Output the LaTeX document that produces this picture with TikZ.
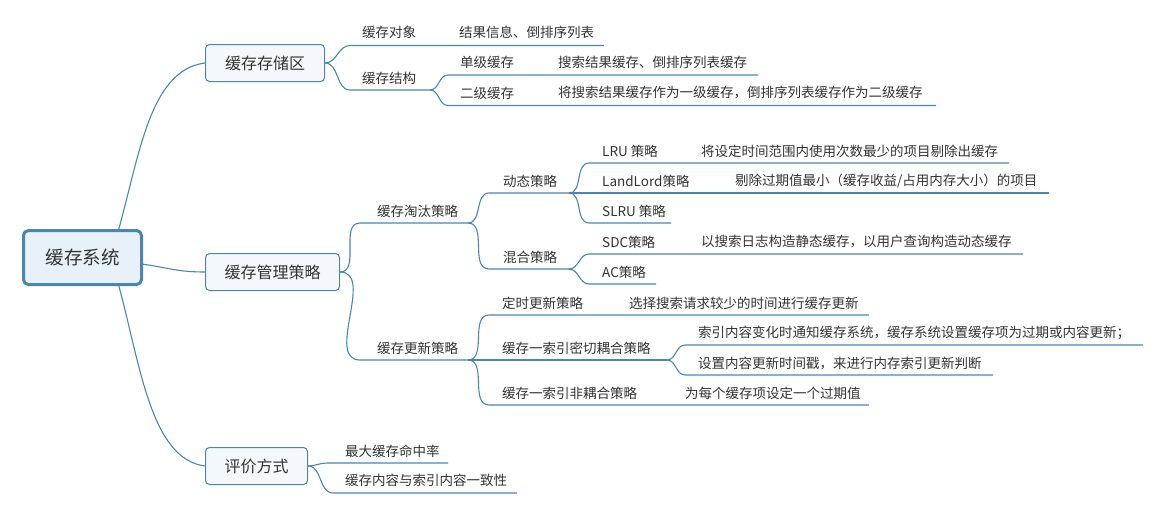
\documentclass[tikz,border=0pt]{standalone}
\usepackage{fontspec}
\setmainfont{Noto Sans CJK SC}
\usetikzlibrary{backgrounds}
\definecolor{lnc}{HTML}{4A86B4}
\definecolor{rootfill}{HTML}{E8F1FA}
\definecolor{subfill}{HTML}{F4F8FC}
\definecolor{txt}{HTML}{333333}
\tikzset{
  conn/.style={color=lnc, line width=1.1pt},
  curv/.style={out=0, in=180},
  lbl/.style={anchor=west, inner sep=0pt, text=txt, font=\fontsize{13.5}{16}\selectfont},
  rootbox/.style={draw=lnc, line width=3pt, fill=rootfill, rounded corners=5pt,
    font=\fontsize{18.5}{22}\selectfont, text=txt, inner sep=0pt,
    minimum width=118pt, minimum height=54pt},
  mainbox/.style={draw=lnc, line width=1pt, fill=subfill, rounded corners=4pt,
    minimum height=37pt, font=\fontsize{16}{19}\selectfont, text=txt, inner sep=0pt},
}
\begin{document}
\begin{tikzpicture}[x=1pt, y=-1pt]
\useasboundingbox (0,0) rectangle (1163,514);

% main boxes
\node[rootbox] (root) at (82.5,257.5) {缓存系统};
\node[mainbox, minimum width=119pt] (b1) at (265,63) {缓存存储区};
\node[mainbox, minimum width=134pt] (b2) at (272.5,272) {缓存管理策略};
\node[mainbox, minimum width=102pt] (b3) at (256.5,466) {评价方式};

% anchor points of root connectors
\coordinate (rtop) at (118,232);
\coordinate (rbot) at (118,283);
\coordinate (rmid) at (141,264);

% ---- 缓存存储区 ----
\coordinate (c1s) at (350,45.5);  \coordinate (c1e) at (604,45.5);
\node[lbl] (c1t) at (362,32) {缓存对象};
\node[lbl] (c1d) at (459,32) {结果信息、倒排序列表};
\coordinate (c2s) at (350,90);    \coordinate (c2e) at (430,90);
\node[lbl] (c2t) at (362,78) {缓存结构};
\coordinate (c21s) at (448,75);   \coordinate (c21e) at (758,75);
\node[lbl] (c21t) at (460,62) {单级缓存};
\node[lbl] (c21d) at (558,62) {搜索结果缓存、倒排序列表缓存};
\coordinate (c22s) at (448,105.5); \coordinate (c22e) at (936,105.5);
\node[lbl] (c22t) at (460,93) {二级缓存};
\node[lbl] (c22d) at (558,93) {将搜索结果缓存作为一级缓存，倒排序列表缓存作为二级缓存};

% ---- 缓存管理策略 ----
\coordinate (d1s) at (360,223);   \coordinate (d1e) at (468,223);
\node[lbl] (d1t) at (377,211) {缓存淘汰策略};
\coordinate (d2s) at (360,360);   \coordinate (d2e) at (468,360);
\node[lbl] (d2t) at (377,348) {缓存更新策略};

\coordinate (e1s) at (489,193);   \coordinate (e1e) at (569,193);
\node[lbl] (e1t) at (503,181) {动态策略};
\coordinate (e2s) at (489,269);   \coordinate (e2e) at (569,269);
\node[lbl] (e2t) at (503,257) {混合策略};

\coordinate (f1s) at (589,163);   \coordinate (f1e) at (1009,163);
\node[lbl] (f1t) at (602,151) {LRU 策略};
\node[lbl] (f1d) at (701,151) {将设定时间范围内使用次数最少的项目剔除出缓存};
\coordinate (f2s) at (589,193);   \coordinate (f2e) at (1049,193);
\node[lbl] (f2t) at (602,181) {LandLord策略};
\node[lbl] (f2d) at (735,181) {剔除过期值最小（缓存收益/占用内存大小）的项目};
\coordinate (f3s) at (589,223);   \coordinate (f3e) at (671,223);
\node[lbl] (f3t) at (602,211) {SLRU 策略};
\coordinate (f4s) at (589,254);   \coordinate (f4e) at (1023,254);
\node[lbl] (f4t) at (602,242) {SDC策略};
\node[lbl] (f4d) at (701,242) {以搜索日志构造静态缓存，以用户查询构造动态缓存};
\coordinate (f5s) at (589,284);   \coordinate (f5e) at (656,284);
\node[lbl] (f5t) at (602,272) {AC策略};

\coordinate (g1s) at (489,315);   \coordinate (g1e) at (869,315);
\node[lbl] (g1t) at (502,303) {定时更新策略};
\node[lbl] (g1d) at (629,303) {选择搜索请求较少的时间进行缓存更新};
\coordinate (g2s) at (489,360);   \coordinate (g2e) at (667,360);
\node[lbl] (g2t) at (502,348) {缓存一索引密切耦合策略};
\coordinate (g3s) at (489,405);   \coordinate (g3e) at (869,405);
\node[lbl] (g3t) at (502,393) {缓存一索引非耦合策略};
\node[lbl] (g3d) at (685,393) {为每个缓存项设定一个过期值};

\coordinate (h1s) at (685,345);   \coordinate (h1e) at (1143,345);
\node[lbl] (h1t) at (698,333) {索引内容变化时通知缓存系统，缓存系统设置缓存项为过期或内容更新；};
\coordinate (h2s) at (685,375);   \coordinate (h2e) at (993,375);
\node[lbl] (h2t) at (698,364) {设置内容更新时间戳，来进行内存索引更新判断};

% ---- 评价方式 ----
\coordinate (k1s) at (327,463);   \coordinate (k1e) at (448,463);
\node[lbl] (k1t) at (345,451) {最大缓存命中率};
\coordinate (k2s) at (333,493);   \coordinate (k2e) at (517,493);
\node[lbl] (k2t) at (345,480) {缓存内容与索引内容一致性};

\begin{scope}[on background layer]
  \fill[white] (0,0) rectangle (1163,514);
\end{scope}
\begin{scope}[on background layer]
  % root connectors
  \draw[conn] (rtop) .. controls +(22,-79) and +(-55,7) .. (b1.west);
  \draw[conn] (rmid) .. controls +(25,3) and +(-30,0) .. (b2.west);
  \draw[conn] (rbot) .. controls +(22,79) and +(-55,-7) .. (b3.west);
  % 缓存存储区
  \draw[conn] (b1.east) to[curv] (c1s) -- (c1e);
  \draw[conn] (b1.east) to[curv] (c2s) -- (c2e);
  \draw[conn] (c2e) to[curv] (c21s) -- (c21e);
  \draw[conn] (c2e) to[curv] (c22s) -- (c22e);
  % 缓存管理策略
  \draw[conn] (b2.east) to[curv] (d1s) -- (d1e);
  \draw[conn] (b2.east) to[curv] (d2s) -- (d2e);
  \draw[conn] (d1e) to[curv] (e1s) -- (e1e);
  \draw[conn] (d1e) to[curv] (e2s) -- (e2e);
  \draw[conn] (e1e) to[curv] (f1s) -- (f1e);
  \draw[conn] (e1e) -- (f2s) -- (f2e);
  \draw[conn] (e1e) to[curv] (f3s) -- (f3e);
  \draw[conn] (e2e) to[curv] (f4s) -- (f4e);
  \draw[conn] (e2e) to[curv] (f5s) -- (f5e);
  \draw[conn] (d2e) to[curv] (g1s) -- (g1e);
  \draw[conn] (d2e) -- (g2s) -- (g2e);
  \draw[conn] (d2e) to[curv] (g3s) -- (g3e);
  \draw[conn] (g2e) to[curv] (h1s) -- (h1e);
  \draw[conn] (g2e) to[curv] (h2s) -- (h2e);
  % 评价方式
  \draw[conn] (b3.east) to[curv] (k1s) -- (k1e);
  \draw[conn] (b3.east) to[curv] (k2s) -- (k2e);
\end{scope}
\end{tikzpicture}
\end{document}
